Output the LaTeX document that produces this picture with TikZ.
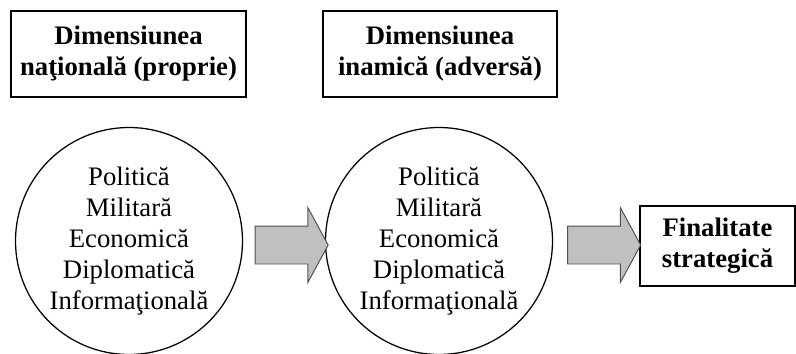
\documentclass[tikz,border=0pt]{standalone}
\usepackage{fontspec}
\setmainfont{Liberation Serif}
\usetikzlibrary{shapes.arrows}

\definecolor{arrowfill}{HTML}{C0C0C0}
\definecolor{arrowline}{HTML}{505050}

\tikzset{
    dimbox/.style={draw, line width=1pt, align=center, font=\fontsize{19}{22}\selectfont\bfseries,
        inner sep=0pt},
    fieldcircle/.style={draw, circle, line width=0.9pt, align=center, minimum size=5.675cm,
        font=\fontsize{19}{22}\selectfont, inner sep=0pt},
    blockarrow/.style={single arrow, draw=arrowline, fill=arrowfill, line width=0.7pt,
        single arrow head extend=0.4625cm, single arrow tip angle=123,
        inner xsep=0pt, inner ysep=0.4625cm, minimum height=1.825cm}
}

\begin{document}
\begin{tikzpicture}
        \useasboundingbox (0,0) rectangle (19.9,8.825);
        \node[dimbox, minimum width=5.875cm, minimum height=2.15cm] (dimnat) at (3.2125,7.475) {Dimensiunea\\naţională (proprie)};
        \node[dimbox, minimum width=5.85cm, minimum height=2.15cm] (diminam) at (11.0,7.475) {Dimensiunea\\inamică (adversă)};
        \node[fieldcircle] (polnat) at (3.225,2.8) {Politică\\Militară\\Economică\\Diplomatică\\Informaţională};
        \node[fieldcircle] (polinam) at (10.975,2.8) {Politică\\Militară\\Economică\\Diplomatică\\Informaţională};
        \node[dimbox, minimum width=3.875cm, minimum height=2.0cm] (final) at (17.9375,2.675) {Finalitate\\strategică};
        \node[blockarrow] (arrnat) at (7.1625,2.7) {};
        \node[blockarrow] (arrinam) at (14.975,2.7) {};
    \end{tikzpicture}
\end{document}
